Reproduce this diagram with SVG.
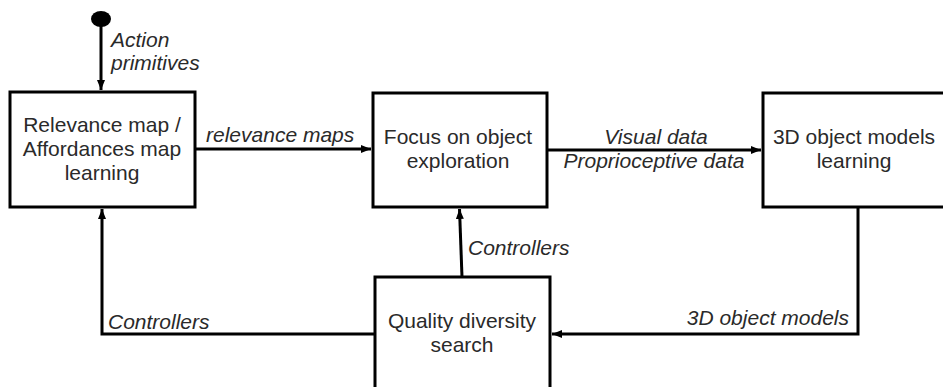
<svg xmlns="http://www.w3.org/2000/svg" width="943" height="387" viewBox="0 0 943 387">
<style>
.box{fill:#fff;stroke:#000;stroke-width:3}
.t{font-family:"Liberation Sans",Arial,sans-serif;font-size:21px;fill:#2a2a2a;text-anchor:middle}
.l{font-family:"Liberation Sans",Arial,sans-serif;font-size:21px;font-style:italic;fill:#2a2a2a}
.c{fill:none;stroke:#000;stroke-width:3}
</style>
<defs>
<marker id="ah" viewBox="0 0 10 8" refX="10" refY="4" markerWidth="10" markerHeight="8" markerUnits="userSpaceOnUse" orient="auto">
<path d="M0,0 L10,4 L0,8 Z" fill="#000"/>
</marker>
</defs>
<g id="connectors">
<ellipse cx="101" cy="19" rx="10" ry="8" fill="#000"/>
<path class="c" d="M101,25 L101,90" marker-end="url(#ah)"/>
<path class="c" d="M195,149 L371,149" marker-end="url(#ah)"/>
<path class="c" d="M547,150 L761,150" marker-end="url(#ah)"/>
<path class="c" d="M858,207 L858,334 L552,334" marker-end="url(#ah)"/>
<path class="c" d="M462,277 L459.5,209" marker-end="url(#ah)"/>
<path class="c" d="M375,334 L102,334 L102,209" marker-end="url(#ah)"/>
<text class="l" x="111" y="47">Action</text>
<text class="l" x="111" y="70">primitives</text>
<text class="l" x="206" y="142">relevance maps</text>
<text class="l" x="656" y="144" text-anchor="middle">Visual data</text>
<text class="l" x="654" y="168" text-anchor="middle">Proprioceptive data</text>
<text class="l" x="849" y="325" text-anchor="end">3D object models</text>
<text class="l" x="468" y="255">Controllers</text>
<text class="l" x="108" y="329">Controllers</text>
</g>
<g id="relevance">
<rect class="box" x="10" y="92" width="185" height="115"/>
<text class="t" x="102" y="132">Relevance map /</text>
<text class="t" x="102" y="156">Affordances map</text>
<text class="t" x="102" y="180">learning</text>
</g>
<g id="focus">
<rect class="box" x="373" y="93" width="174" height="114"/>
<text class="t" x="458" y="144">Focus on object</text>
<text class="t" x="458" y="168">exploration</text>
</g>
<g id="models">
<rect class="box" x="763" y="93" width="190" height="114"/>
<text class="t" x="854" y="144">3D object models</text>
<text class="t" x="854" y="168">learning</text>
</g>
<g id="quality">
<rect class="box" x="375" y="277" width="175" height="130"/>
<text class="t" x="462" y="328">Quality diversity</text>
<text class="t" x="462" y="352">search</text>
</g>
</svg>
